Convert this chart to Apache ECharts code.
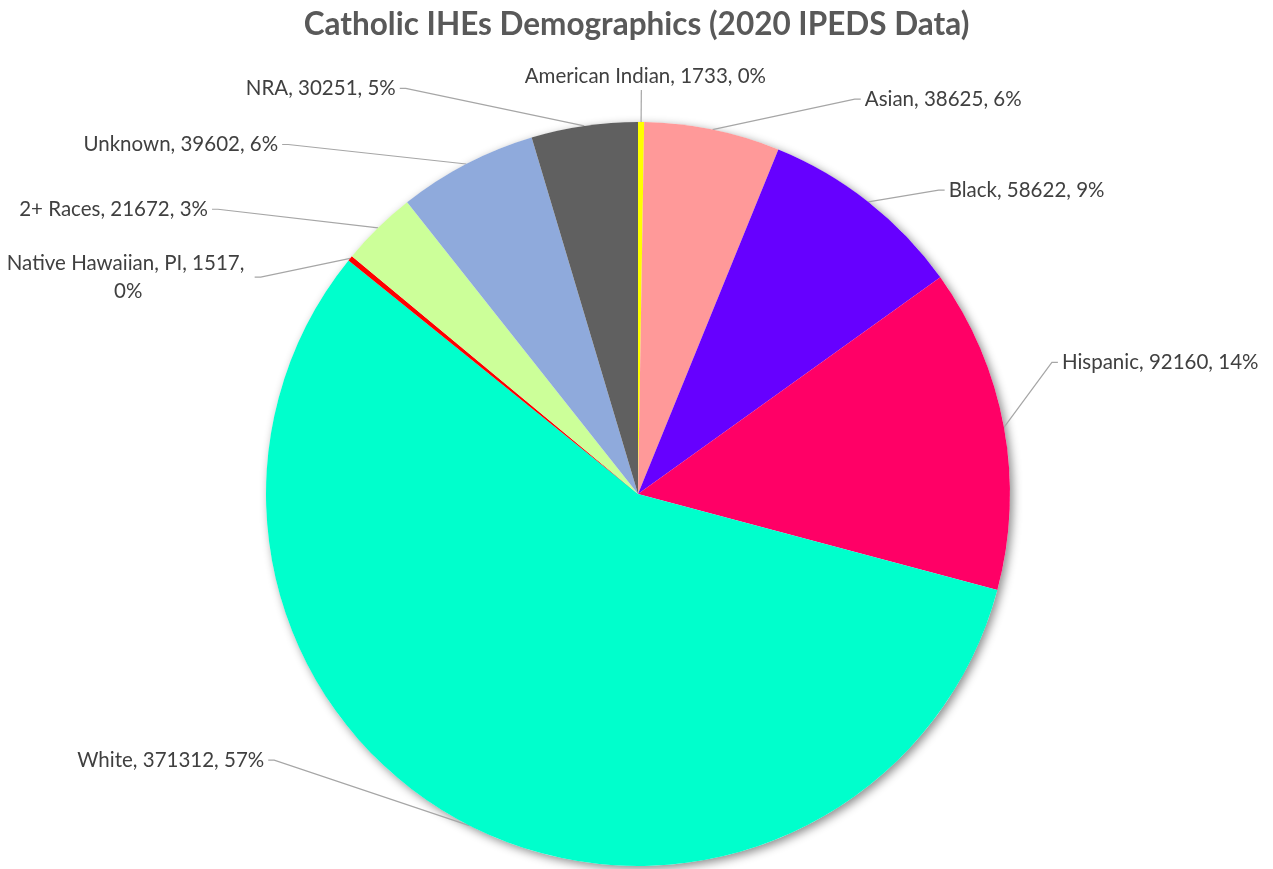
<!DOCTYPE html>
<html><head><meta charset="utf-8">
<script src="https://cdn.jsdelivr.net/npm/echarts@6/dist/echarts.min.js"></script>
<style>html,body{margin:0;padding:0;background:#fff}#c{width:1273px;height:869px}</style>
</head><body><div id="c"></div>
<script>
const categories = ['American Indian','Asian','Black','Hispanic','White','Native Hawaiian, PI','2+ Races','Unknown','NRA'];
const values = [1733,38625,58622,92160,371312,1517,21672,39602,30251];
const colors = ['#FFFF00','#FF9999','#6600FF','#FF0066','#00FFCC','#FF0000','#CCFF99','#8FAADC','#606060'];
// label leader geometry (styling only)
const lineLength = [30,31,15,5,5,2,26,22,38];
const lineLength2 = [0,142,67,49,199,94,148,174,179];
const labelShiftY = [-2,0,0,-64,-70,20,0,0,0];

const chart = echarts.init(document.getElementById('c'));
const pieData = categories.map((name, i) => ({
  name: name,
  value: values[i],
  itemStyle: { color: colors[i] },
  labelLine: { length: lineLength[i], length2: lineLength2[i] },
  label: i === 5 ? { width: 245, overflow: 'break' } : {}
}));

chart.setOption({
  animation: false,
  backgroundColor: '#ffffff',
  title: {
    text: 'Catholic IHEs Demographics (2020 IPEDS Data)',
    left: 'center',
    top: 4,
    textStyle: { fontFamily: 'Lato', fontWeight: 'bold', fontSize: 31.5, color: '#595959' }
  },
  series: [
    {
      type: 'pie',
      silent: true,
      center: [638, 494],
      radius: 372,
      z: 1,
      label: { show: false },
      labelLine: { show: false },
      itemStyle: { color: '#ffffff', shadowBlur: 10, shadowColor: 'rgba(0,0,0,0.45)', shadowOffsetX: 3, shadowOffsetY: 3 },
      data: [{ value: 1, name: '' }]
    },
    {
      type: 'pie',
      center: [638, 494],
      radius: 372,
      startAngle: 90,
      clockwise: true,
      z: 2,
      avoidLabelOverlap: false,
      label: {
        show: true,
        position: 'outside',
        fontFamily: 'Lato',
        fontSize: 20.5,
        lineHeight: 28,
        color: '#404040',
        distanceToLabelLine: 4,
        formatter: p => p.name + ', ' + p.value + ', ' + Math.round(p.percent) + '%'
      },
      labelLine: { show: true, smooth: false, lineStyle: { color: '#A6A6A6', width: 1.2 } },
      itemStyle: { borderWidth: 0 },
      labelLayout: function (p) {
        const i = p.dataIndex;
        const dy = labelShiftY[i];
        const pts = p.labelLinePoints;
        if (!pts) return {};
        const p0 = pts[0];
        const p2 = [pts[2][0], pts[2][1] + dy];
        if (i === 0) {
          return { dy: dy, align: 'center', verticalAlign: 'bottom',
                   labelLinePoints: [p0, p2, p2] };
        }
        const dir = p2[0] >= p0[0] ? 1 : -1;
        const p1 = [p2[0] - dir * 6, p2[1]];
        const out = { dy: dy, labelLinePoints: [p0, p1, p2] };
        if (i === 5) {
          out.align = 'center';
          out.dx = -p.labelRect.width / 2;
        }
        return out;
      },
      data: pieData
    }
  ]
});
</script>
</body></html>
